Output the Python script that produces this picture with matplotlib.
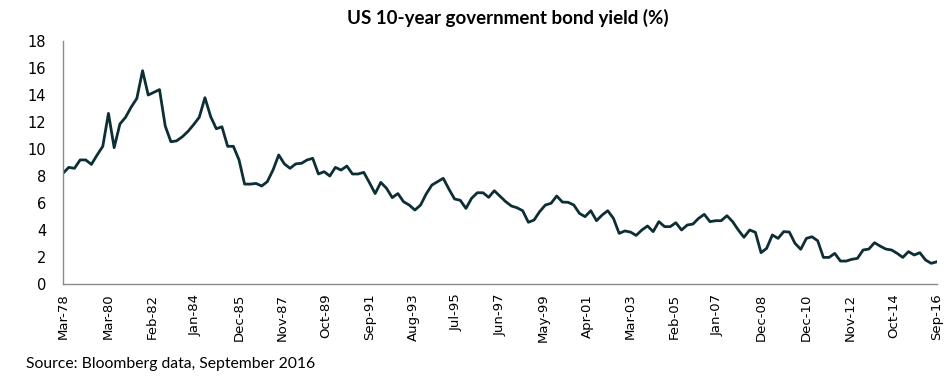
"""
US 10-year government bond yield, quarterly, Mar-78 to Sep-16.
"""

import pandas as pd
import matplotlib
matplotlib.use("Agg")
import matplotlib.pyplot as plt
import matplotlib.dates as mdates

# Quarterly yields (%), Mar-78 .. Sep-16
yields = [
    8.2, 8.64, 8.57, 9.19, 9.19, 8.86, 9.56, 10.2, 12.64, 10.1,
    11.85, 12.35, 13.1, 13.75, 15.8, 14.0, 14.2, 14.4, 11.7, 10.54,
    10.6, 10.9, 11.3, 11.8, 12.35, 13.8, 12.4, 11.5, 11.65, 10.2,
    10.2, 9.2, 7.4, 7.4, 7.45, 7.26, 7.58, 8.44, 9.56, 8.9,
    8.57, 8.9, 8.94, 9.19, 9.31, 8.15, 8.32, 8.0, 8.64, 8.44,
    8.74, 8.15, 8.15, 8.27, 7.5, 6.7, 7.53, 7.09, 6.4, 6.7,
    6.1, 5.85, 5.48, 5.85, 6.67, 7.33, 7.58, 7.83, 7.04, 6.3,
    6.2, 5.6, 6.35, 6.76, 6.76, 6.42, 6.91, 6.5, 6.1, 5.78,
    5.65, 5.43, 4.57, 4.74, 5.36, 5.85, 5.98, 6.52, 6.07, 6.05,
    5.85, 5.23, 4.99, 5.43, 4.69, 5.11, 5.43, 4.86, 3.75, 3.93,
    3.85, 3.6, 4.0, 4.3, 3.88, 4.62, 4.25, 4.25, 4.54, 4.0,
    4.37, 4.44, 4.86, 5.16, 4.62, 4.69, 4.69, 5.06, 4.62, 4.0,
    3.46, 4.0, 3.83, 2.32, 2.64, 3.63, 3.38, 3.88, 3.85, 3.01,
    2.57, 3.38, 3.5, 3.2, 1.97, 1.97, 2.27, 1.7, 1.7, 1.83,
    1.9, 2.52, 2.59, 3.06, 2.81, 2.59, 2.52, 2.27, 1.97, 2.4,
    2.15, 2.32, 1.78, 1.53, 1.65,
]
dates = pd.date_range("1978-03-01", periods=len(yields), freq="3MS")

# Axis labels as shown on the chart
tick_labels = [
    "Mar-78", "Mar-80", "Feb-82", "Jan-84", "Dec-85", "Nov-87", "Oct-89",
    "Sep-91", "Aug-93", "Jul-95", "Jun-97", "May-99", "Apr-01", "Mar-03",
    "Feb-05", "Jan-07", "Dec-08", "Dec-10", "Nov-12", "Oct-14", "Sep-16",
]
tick_dates = pd.to_datetime(tick_labels, format="%b-%y")
y_ticks = list(range(0, 19, 2))

line_color = "#0c2e34"
axis_color = "#8c8c8c"

fig = plt.figure(figsize=(9.52, 3.84), dpi=100)
ax = fig.add_axes([0.0662, 0.2604, 0.918, 0.6328])

ax.plot(dates, yields, color=line_color, linewidth=2.0, solid_joinstyle="round")

ax.set_xlim(dates[0], dates[-1])
ax.set_ylim(0, 18)
ax.set_yticks(y_ticks)
ax.set_xticks(mdates.date2num(tick_dates))
ax.set_xticklabels(tick_labels, rotation=90, fontsize=9.5, family="DejaVu Sans")
ax.tick_params(axis="x", length=0, pad=7, colors="black")
ax.tick_params(axis="y", length=0, pad=12, labelsize=10.5)
for lbl in ax.get_yticklabels():
    lbl.set_family("DejaVu Sans")

for side in ["top", "right"]:
    ax.spines[side].set_visible(False)
for side in ["left", "bottom"]:
    ax.spines[side].set_color(axis_color)
    ax.spines[side].set_linewidth(1.0)

fig.text(0.533, 0.952, "US 10-year government bond yield (%)", ha="center",
         va="center", fontsize=13.5, fontweight="bold", family="Lato")
fig.text(0.027, 0.052, "Source: Bloomberg data, September 2016", ha="left",
         va="center", fontsize=11.3, family="Lato")

fig.savefig("out.png", dpi=100)
plt.close(fig)
